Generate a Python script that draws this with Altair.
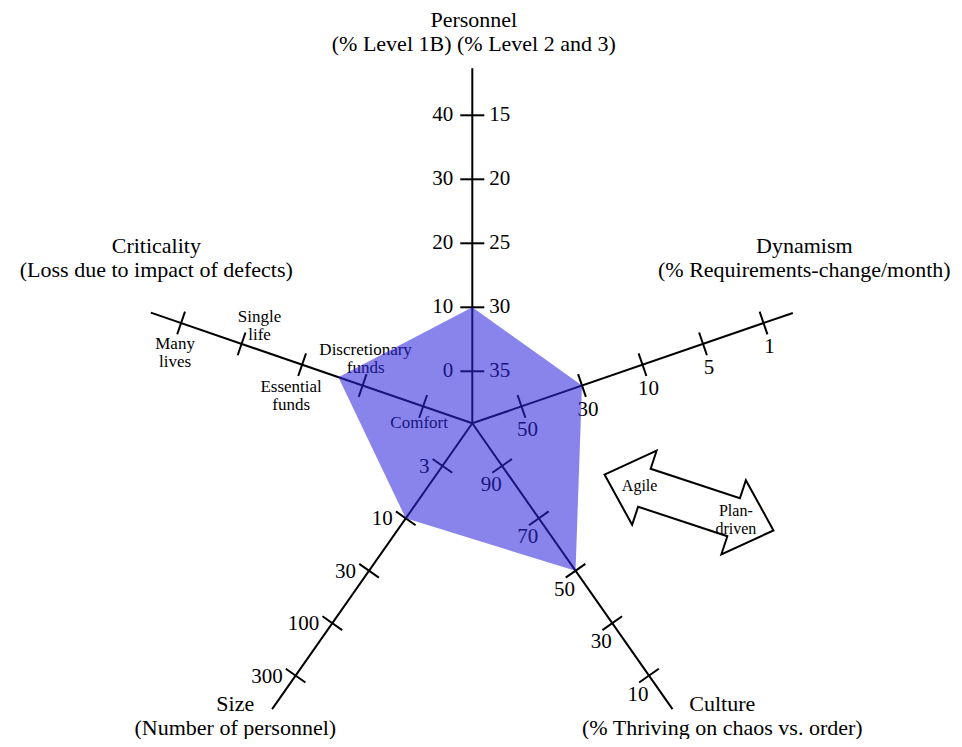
import math
import altair as alt
import pandas as pd

# ---------------- data ----------------
AXES = ["Personnel", "Dynamism", "Culture", "Size", "Criticality"]
ANGLES = [90, 19, -55, -125, 161]          # direction of each spoke, degrees
AXIS_LEN = [355, 339, 349, 349, 340]       # spoke length (px)

PERSONNEL_LEFT = ["0", "10", "20", "30", "40"]
PERSONNEL_RIGHT = ["35", "30", "25", "20", "15"]
DYNAMISM = ["50", "30", "10", "5", "1"]
CULTURE = ["90", "70", "50", "30", "10"]
SIZE = ["3", "10", "30", "100", "300"]
CRITICALITY = [["Comfort"], ["Discretionary", "funds"], ["Essential", "funds"],
               ["Single", "life"], ["Many", "lives"]]

# profile position on each spoke, in tick steps (0 = first tick)
PROFILE = [1, 1, 2, 1, 1.4]

HEADINGS = [
    ["Personnel", "(% Level 1B) (% Level 2 and 3)"],
    ["Dynamism", "(% Requirements-change/month)"],
    ["Culture", "(% Thriving on chaos vs. order)"],
    ["Size", "(Number of personnel)"],
    ["Criticality", "(Loss due to impact of defects)"],
]
ARROW_LEFT = ["Agile"]
ARROW_RIGHT = ["Plan-", "driven"]

# ---------------- layout / style ----------------
W, H = 946, 731
X_DOM = [-464.3, 481.7]
Y_DOM = [-315.7, 415.3]
R0, STEP, TICK_HALF = 52, 64, 12
FONT = "Liberation Serif"
HEAD_POS = [(1.5, 403), (332, 177), (250, -281), (-237, -281), (-316, 177)]
HEAD_GAP = [24, 24, 24, 24, 24]
DYN_OFF = (6, -24)
CUL_OFF = (-11, -19)
SIZE_OFF = (-13, -1)
CRIT_OFF = [(-4, -17), (3, 27), (-11, -31.5), (18, 18), (-6, -30)]
CRIT_GAP = 18
ARROW_C = (216.7, -79.2)
ARROW_ANG = -18.3
ARROW_HALF, ARROW_HEAD, ARROW_HEADW, ARROW_SHAFT = 89, 42, 39, 20
FILL = "#2d24dd"
FILL_OP = 0.56


def spoke(i, r):
    a = math.radians(ANGLES[i])
    return r * math.cos(a), r * math.sin(a)


xs = alt.Scale(domain=X_DOM, nice=False, zero=False)
ys = alt.Scale(domain=Y_DOM, nice=False, zero=False)
X = lambda f="x": alt.X(f"{f}:Q", scale=xs, axis=None)
Y = lambda f="y": alt.Y(f"{f}:Q", scale=ys, axis=None)

# spokes
rows = []
for i in range(5):
    ex, ey = spoke(i, AXIS_LEN[i])
    rows.append({"x": 0, "y": 0, "x2": ex, "y2": ey})
spokes_df = pd.DataFrame(rows)

# ticks
rows = []
for i in range(5):
    a = math.radians(ANGLES[i])
    nx, ny = -math.sin(a), math.cos(a)
    for k in range(5):
        px, py = spoke(i, R0 + STEP * k)
        rows.append({"x": px - TICK_HALF * nx, "y": py - TICK_HALF * ny,
                     "x2": px + TICK_HALF * nx, "y2": py + TICK_HALF * ny})
ticks_df = pd.DataFrame(rows)

# tick labels
center_rows, left_rows, right_rows, small_rows = [], [], [], []
for k in range(5):
    px, py = spoke(0, R0 + STEP * k)
    right_rows.append({"x": px - 19, "y": py, "t": PERSONNEL_LEFT[k]})
    left_rows.append({"x": px + 17, "y": py, "t": PERSONNEL_RIGHT[k]})
    px, py = spoke(1, R0 + STEP * k)
    center_rows.append({"x": px + DYN_OFF[0], "y": py + DYN_OFF[1], "t": DYNAMISM[k]})
    px, py = spoke(2, R0 + STEP * k)
    center_rows.append({"x": px + CUL_OFF[0], "y": py + CUL_OFF[1], "t": CULTURE[k]})
    px, py = spoke(3, R0 + STEP * k)
    right_rows.append({"x": px + SIZE_OFF[0], "y": py + SIZE_OFF[1], "t": SIZE[k]})
    px, py = spoke(4, R0 + STEP * k)
    lines = CRITICALITY[k]
    n = len(lines)
    for j, ln in enumerate(lines):
        small_rows.append({"x": px + CRIT_OFF[k][0],
                           "y": py + CRIT_OFF[k][1] + CRIT_GAP * ((n - 1) / 2 - j),
                           "t": ln})

# profile polygon
poly_df = pd.DataFrame([
    dict(zip(["x", "y"], spoke(i, R0 + STEP * PROFILE[i])), order=i) for i in range(5)
])

# arrow outline
L, HL, HW, SW = ARROW_HALF, ARROW_HEAD, ARROW_HEADW, ARROW_SHAFT
local = [(-L, 0), (-L + HL, HW), (-L + HL, SW), (L - HL, SW), (L - HL, HW),
         (L, 0), (L - HL, -HW), (L - HL, -SW), (-L + HL, -SW), (-L + HL, -HW)]
aa = math.radians(ARROW_ANG)
ux, uy = math.cos(aa), math.sin(aa)
vx, vy = -math.sin(aa), math.cos(aa)
arrow_df = pd.DataFrame([
    {"x": ARROW_C[0] + u * ux + v * vx, "y": ARROW_C[1] + u * uy + v * vy, "order": n}
    for n, (u, v) in enumerate(local)
])
arrow_txt = []
for lines, (u, v) in [(ARROW_LEFT, (-52, 0)), (ARROW_RIGHT, (50, -2))]:
    cx = ARROW_C[0] + u * ux + v * vx
    cy = ARROW_C[1] + u * uy + v * vy
    n = len(lines)
    for j, ln in enumerate(lines):
        arrow_txt.append({"x": cx, "y": cy + 18 * ((n - 1) / 2 - j), "t": ln})

# headings
head_rows = []
for (hx, hy), gap, lines in zip(HEAD_POS, HEAD_GAP, HEADINGS):
    for j, ln in enumerate(lines):
        head_rows.append({"x": hx, "y": hy - gap * j, "t": ln})

# ---------------- chart ----------------
rule_enc = dict(x=X(), y=Y(), x2="x2:Q", y2="y2:Q")
spokes = alt.Chart(spokes_df).mark_rule(color="black", strokeWidth=2).encode(**rule_enc)
ticks = alt.Chart(ticks_df).mark_rule(color="black", strokeWidth=2).encode(**rule_enc)


def texts(rows, size, align="center"):
    return alt.Chart(pd.DataFrame(rows)).mark_text(
        font=FONT, fontSize=size, align=align, baseline="middle", color="black"
    ).encode(x=X(), y=Y(), text="t:N")


lab_c = texts(center_rows, 21)
lab_r = texts(right_rows, 21, "right")
lab_l = texts(left_rows, 21, "left")
lab_s = texts(small_rows, 17)

poly = alt.Chart(poly_df).mark_line(
    interpolate="linear-closed", fill=FILL, fillOpacity=FILL_OP, strokeOpacity=0
).encode(x=X(), y=Y(), order="order:Q")

arrow = alt.Chart(arrow_df).mark_line(
    interpolate="linear-closed", color="black", strokeWidth=2, strokeJoin="miter"
).encode(x=X(), y=Y(), order="order:Q")
arrow_lab = texts(arrow_txt, 16)
heads = texts(head_rows, 22)

chart = alt.layer(
    spokes, ticks, lab_c, lab_r, lab_l, lab_s, poly, arrow, arrow_lab, heads
).properties(
    width=W, height=H, padding=0, autosize=alt.AutoSizeParams(type="none")
).configure_view(stroke="transparent")

chart.save("out.html", embed_options={"renderer": "svg", "actions": False})
